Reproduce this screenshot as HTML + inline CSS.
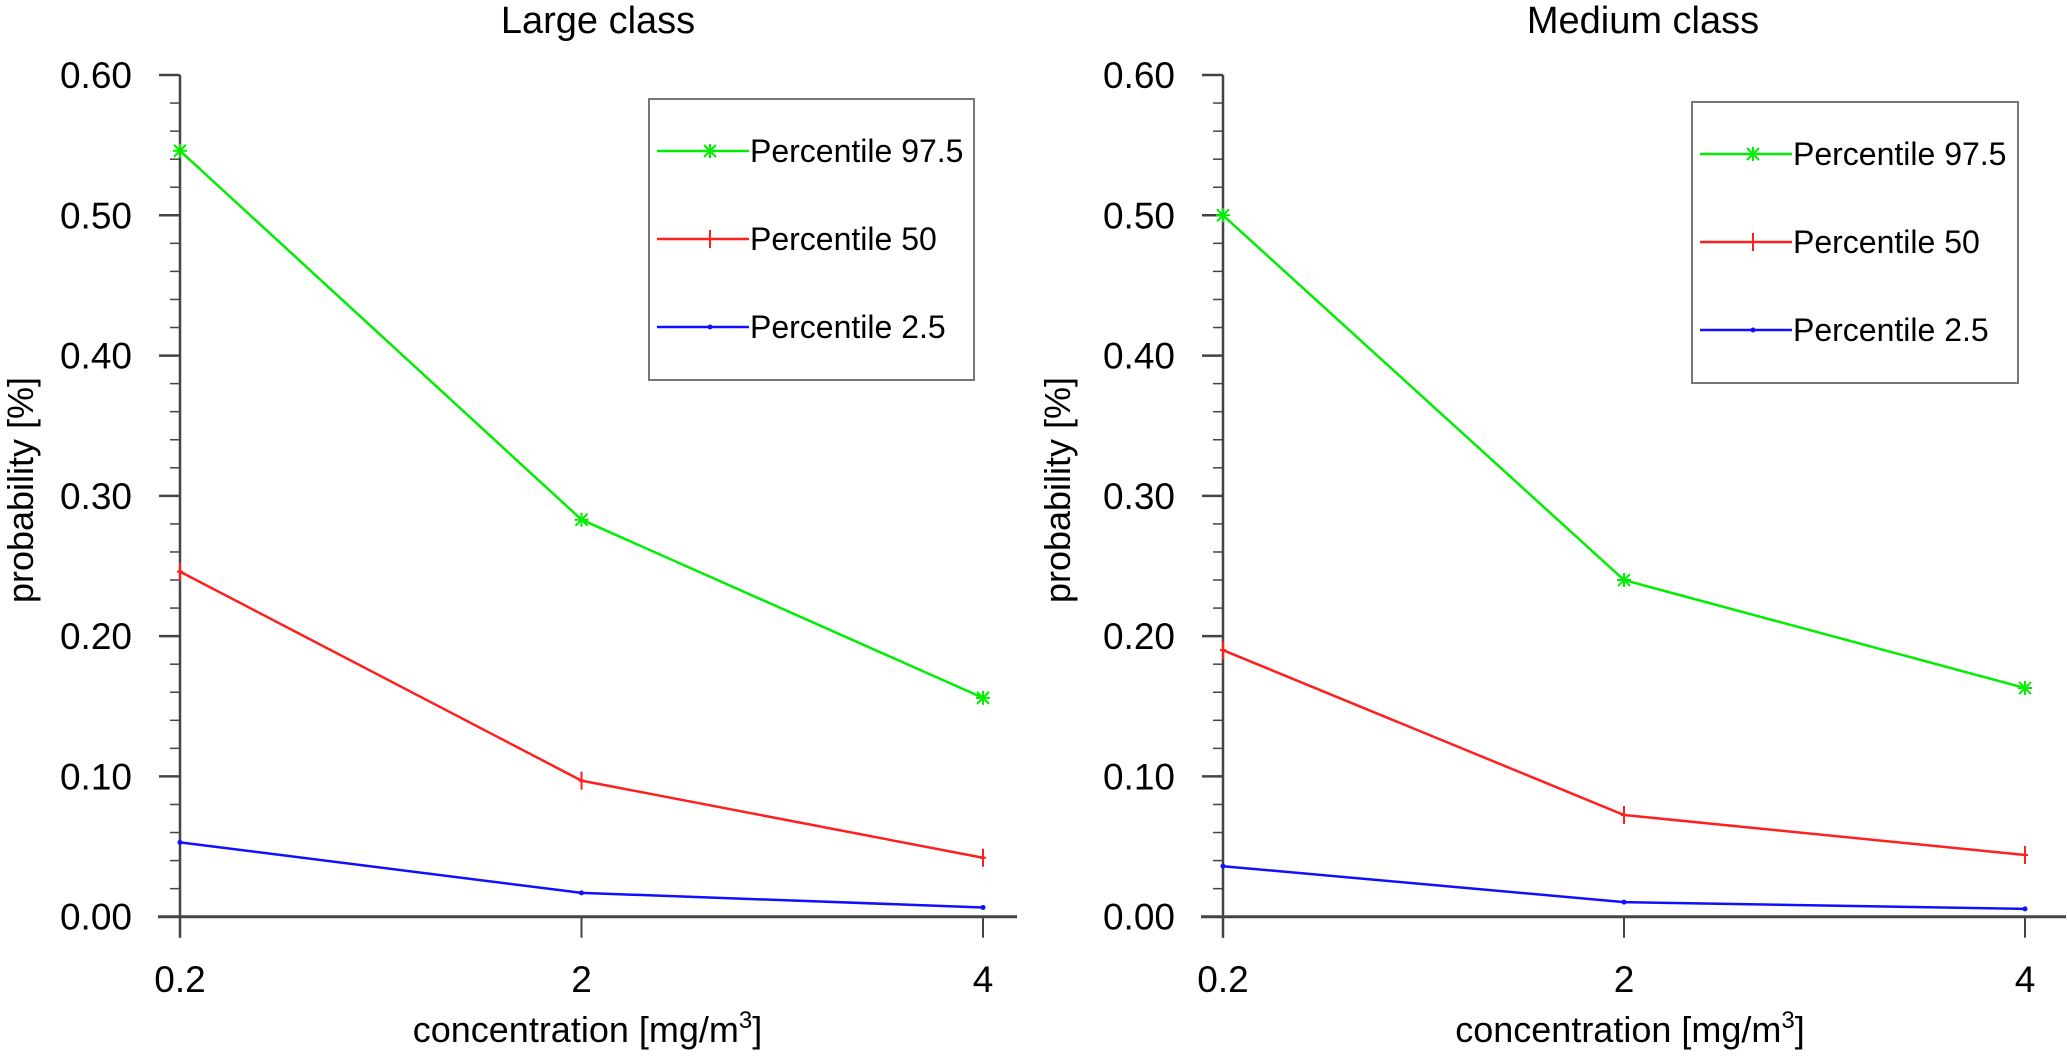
<!DOCTYPE html>
<html><head><meta charset="utf-8"><style>
html,body{margin:0;padding:0;background:#fff;}
svg text{font-family:"Liberation Sans",Arial,sans-serif;fill:#000;}
</style></head>
<body>
<svg id="chart" width="2067" height="1055" viewBox="0 0 2067 1055" xmlns="http://www.w3.org/2000/svg"></svg>
<script>
const categories = ["0.2", "2", "4"];
const yTicks = [0, 0.1, 0.2, 0.3, 0.4, 0.5, 0.6];
const yTickLabels = ["0.00", "0.10", "0.20", "0.30", "0.40", "0.50", "0.60"];
const seriesNames = ["Percentile 97.5", "Percentile 50", "Percentile 2.5"];
const largeP975 = [0.546, 0.283, 0.156];
const largeP50 = [0.246, 0.097, 0.042];
const largeP25 = [0.053, 0.017, 0.0066];
const mediumP975 = [0.500, 0.240, 0.163];
const mediumP50 = [0.190, 0.0725, 0.044];
const mediumP25 = [0.036, 0.0104, 0.0056];

const NS = "http://www.w3.org/2000/svg";
const svg = document.getElementById("chart");
const colors = ["#00ee00", "#ff1f1f", "#1010ff"];
const markers = ["star", "plus", "dot"];

function mk(tag, attrs, parent) {
  const e = document.createElementNS(NS, tag);
  for (const k in attrs) e.setAttribute(k, attrs[k]);
  (parent || svg).appendChild(e);
  return e;
}

function drawMarker(g, type, x, y, color) {
  if (type === "star") {
    const p = mk("path", {d: `M${x-6},${y-6}L${x+6},${y+6}M${x-6},${y+6}L${x+6},${y-6}M${x-7},${y}L${x+7},${y}M${x},${y-7}L${x},${y+7}`, stroke: color, "stroke-width": 2, fill: "none"}, g);
    
    
  } else if (type === "plus") {
    const p = mk("path", {d: `M${x},${y-9}L${x},${y+9}M${x-3},${y}L${x+3},${y}`, stroke: color, "stroke-width": 2, fill: "none"}, g);
    
    
  } else {
    const p = mk("circle", {cx: x, cy: y, r: 2.5, fill: color}, g);
    
    
  }
}

function panel(cfg) {
  const g = mk("g", {});
  
  
  const x0 = cfg.x0, x1 = cfg.x1, y0 = 916.7, yTop = 75;
  const yScale = v => y0 - (v / 0.6) * (y0 - yTop);
  const xScale = i => x0 + i * (x1 - x0) / (categories.length - 1);

  const t = mk("text", {x: cfg.titleX, y: 33, "font-size": 38, "text-anchor": "middle"}, g);
  t.textContent = cfg.title;
  
  

  const ya = mk("line", {x1: x0, y1: yTop, x2: x0, y2: y0 + 21, stroke: "#444", "stroke-width": 2.5}, g);
  
  
  for (let v = 0; v <= 0.6001; v += 0.02) {
    const yy = yScale(v);
    const major = Math.abs(Math.round(v * 10) - v * 10) < 1e-6;
    const tk = mk("line", {x1: x0 - (major ? 21 : 10), y1: yy, x2: x0, y2: yy, stroke: "#444", "stroke-width": major ? 2.5 : 1.5}, g);
    
    
  }
  yTicks.forEach((v, i) => {
    const lb = mk("text", {x: x0 - 48, y: yScale(v) + 13, "font-size": 37, "text-anchor": "end"}, g);
    lb.textContent = yTickLabels[i];
    
    
  });
  const xa = mk("line", {x1: x0 - 22, y1: y0, x2: x1 + cfg.xExt, y2: y0, stroke: "#444", "stroke-width": 3}, g);
  
  
  categories.forEach((c, i) => {
    const xx = xScale(i);
    const tk = mk("line", {x1: xx, y1: y0, x2: xx, y2: y0 + 21, stroke: "#444", "stroke-width": 2}, g);
    
    
    const lb = mk("text", {x: xx, y: 992, "font-size": 37, "text-anchor": "middle"}, g);
    lb.textContent = c;
    
    
  });
  const xt = mk("text", {x: (x0 + x1) / 2 + 6, y: 1042, "font-size": 36, "text-anchor": "middle"}, g);
  xt.innerHTML = 'concentration [mg/m<tspan dy="-14" font-size="24">3</tspan><tspan dy="14">]</tspan>';
  
  
  const yt = mk("text", {x: 0, y: 0, "font-size": 36, "text-anchor": "middle", transform: `translate(${cfg.yLabelX},490) rotate(-90)`}, g);
  yt.textContent = "probability [%]";
  
  

  cfg.series.forEach((vals, si) => {
    const sg = mk("g", {}, g);
    
    
    const pts = vals.map((v, i) => xScale(i) + "," + yScale(v)).join(" ");
    const pl = mk("polyline", {points: pts, fill: "none", stroke: colors[si], "stroke-width": 2.5}, sg);
    
    
    vals.forEach((v, i) => drawMarker(sg, markers[si], xScale(i), yScale(v), colors[si]));
  });

  const lg = mk("g", {}, g);
  
  
  const box = mk("rect", {x: cfg.lx, y: cfg.ly, width: cfg.lw, height: 281, fill: "#fff", stroke: "#777", "stroke-width": 2}, lg);
  
  
  seriesNames.forEach((n, si) => {
    const yy = cfg.ly + 52 + si * 88;
    const eg = mk("g", {}, lg);
    
    
    mk("line", {x1: cfg.lx + 8, y1: yy, x2: cfg.lx + 100, y2: yy, stroke: colors[si], "stroke-width": 2.5}, eg);
    drawMarker(eg, markers[si], cfg.lx + 61, yy, colors[si]);
    const tx = mk("text", {x: cfg.lx + 101, y: yy + 11, "font-size": 32}, eg);
    tx.textContent = n;
    
    
  });
}

panel({name: "large-class-panel", title: "Large class", titleX: 598, x0: 180, x1: 983, xExt: 34, yLabelX: 33,
  series: [largeP975, largeP50, largeP25], lx: 649, ly: 99, lw: 325});
panel({name: "medium-class-panel", title: "Medium class", titleX: 1643, x0: 1223, x1: 2025, xExt: 41, yLabelX: 1070,
  series: [mediumP975, mediumP50, mediumP25], lx: 1692, ly: 102, lw: 326});
</script>
</body></html>
